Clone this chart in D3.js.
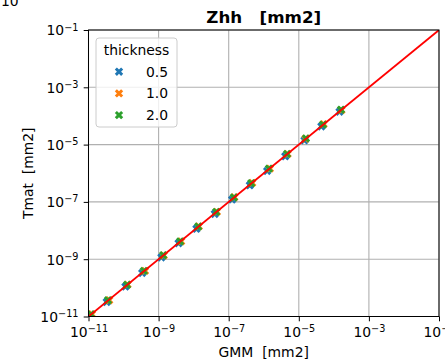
<!DOCTYPE html>
<html>
<head>
<meta charset="utf-8">
<script src="https://cdn.jsdelivr.net/npm/d3@7"></script>
<style>
  body { margin: 0; background: #fff; }
  svg { display: block; font-family: "DejaVu Sans", sans-serif; }
  text { white-space: pre; }
</style>
</head>
<body>
<div id="container"></div>
<script>
var width = 445;
var height = 361;

// data
var thickness = ["0.5", "1.0", "2.0"];
var colors = ["#1f77b4", "#ff7f0e", "#2ca02c"];

var gmm05 = [1.05e-11, 3.3e-11, 1.13e-10, 3.4e-10, 1.2e-9, 3.7e-9, 1.2e-8, 4.0e-8, 1.25e-7, 4.0e-7, 1.25e-6, 4.1e-6, 1.45e-5, 4.4e-5, 1.45e-4];
var tmat05 = [1.0e-11, 3.2e-11, 1.1e-10, 3.3e-10, 1.15e-9, 3.6e-9, 1.15e-8, 3.8e-8, 1.2e-7, 3.8e-7, 1.2e-6, 3.9e-6, 1.4e-5, 4.3e-5, 1.4e-4];
var gmm10 = [1.25e-11, 3.9e-11, 1.3e-10, 4.1e-10, 1.4e-9, 4.4e-9, 1.4e-8, 4.6e-8, 1.45e-7, 4.7e-7, 1.5e-6, 4.8e-6, 1.55e-5, 5.1e-5, 1.65e-4];
var tmat10 = [1.2e-11, 3.7e-11, 1.3e-10, 3.9e-10, 1.35e-9, 4.2e-9, 1.4e-8, 4.5e-8, 1.45e-7, 4.6e-7, 1.45e-6, 4.7e-6, 1.6e-5, 5.2e-5, 1.6e-4];
var gmm20 = [1.17e-11, 3.6e-11, 1.26e-10, 3.8e-10, 1.35e-9, 4.1e-9, 1.35e-8, 4.4e-8, 1.4e-7, 4.4e-7, 1.4e-6, 4.6e-6, 1.6e-5, 4.9e-5, 1.6e-4];
var tmat20 = [1.2e-11, 3.7e-11, 1.28e-10, 3.9e-10, 1.38e-9, 4.2e-9, 1.38e-8, 4.5e-8, 1.43e-7, 4.5e-7, 1.45e-6, 4.7e-6, 1.65e-5, 5.0e-5, 1.65e-4];

var refLine = [1e-11, 1e-1];
var tickExps = [-11, -9, -7, -5, -3, -1];

var series = [
  { label: thickness[0], gx: gmm05, ty: tmat05, color: colors[0] },
  { label: thickness[1], gx: gmm10, ty: tmat10, color: colors[1] },
  { label: thickness[2], gx: gmm20, ty: tmat20, color: colors[2] }
];

// plot box ("top" is a reserved window property, so use other names)
var pLeft = 88.5, pRight = 439, pTop = 30, pBottom = 316.5;
var fs = "13.9px";

var x = d3.scaleLog().domain([1e-11, 1e-1]).range([pLeft, pRight]);
var y = d3.scaleLog().domain([1e-11, 1e-1]).range([pBottom, pTop]);

var svg = d3.select("#container")
  .append("svg")
  .attr("width", width)
  .attr("height", height);

svg.append("clipPath")
  .attr("id", "clip-axes")
  .append("rect")
  .attr("x", pLeft).attr("y", pTop)
  .attr("width", pRight - pLeft).attr("height", pBottom - pTop);

// leftover text from a neighbouring panel
svg.append("text")
  .attr("x", 1).attr("y", 6)
  .style("font-size", fs)
  .text("10");

var tickVals = tickExps.map(function(e) { return Math.pow(10, e); });

// grid
var grid = svg.append("g").attr("class", "grid");
grid.selectAll("line.gx")
  .data(tickVals).enter().append("line")
  .attr("x1", function(d) { return x(d); })
  .attr("x2", function(d) { return x(d); })
  .attr("y1", pTop).attr("y2", pBottom)
  .attr("stroke", "#b0b0b0").attr("stroke-width", 1.1);
grid.selectAll("line.gy")
  .data(tickVals).enter().append("line")
  .attr("y1", function(d) { return y(d); })
  .attr("y2", function(d) { return y(d); })
  .attr("x1", pLeft).attr("x2", pRight)
  .attr("stroke", "#b0b0b0").attr("stroke-width", 1.1);

// points
var xMark = d3.symbol().type(d3.symbolCross).size(44);
var plot = svg.append("g").attr("clip-path", "url(#clip-axes)");

series.forEach(function(s) {
  plot.append("g")
    .selectAll("path")
    .data(d3.range(s.gx.length))
    .enter().append("path")
    .attr("d", xMark)
    .attr("fill", s.color)
    .attr("transform", function(i) {
      return "translate(" + x(s.gx[i]) + "," + y(s.ty[i]) + ")rotate(45)";
    });
});

plot.append("path")
  .datum(refLine)
  .attr("fill", "none")
  .attr("stroke", "#ff0000")
  .attr("stroke-width", 1.8)
  .attr("d", d3.line().x(function(d) { return x(d); }).y(function(d) { return y(d); }));

// axes
function supLabel(sel, exp) {
  sel.text(null);
  sel.append("tspan").text("10");
  sel.append("tspan")
    .attr("dy", "-0.5em")
    .style("font-size", "9.7px")
    .text("\u2212" + Math.abs(exp));
}

var xAxis = svg.append("g")
  .attr("transform", "translate(0," + pBottom + ")")
  .call(d3.axisBottom(x).tickValues(tickVals).tickSize(4.8).tickPadding(5).tickFormat(""));
var yAxis = svg.append("g")
  .attr("transform", "translate(" + pLeft + ",0)")
  .call(d3.axisLeft(y).tickValues(tickVals).tickSize(4.8).tickPadding(5).tickFormat(""));

[xAxis, yAxis].forEach(function(ax) {
  ax.select(".domain").remove();
  ax.selectAll(".tick line").attr("stroke", "#000").attr("stroke-width", 1);
  ax.selectAll(".tick text")
    .attr("fill", "#000")
    .style("font-family", "DejaVu Sans")
    .style("font-size", fs)
    .each(function(d) { supLabel(d3.select(this), Math.round(Math.log10(d))); });
});
xAxis.selectAll(".tick text").attr("dy", "0.95em").attr("y", 7.5);
yAxis.selectAll(".tick text").attr("dy", "0.35em").attr("x", -10);

// spines
svg.append("rect")
  .attr("x", pLeft).attr("y", pTop)
  .attr("width", pRight - pLeft).attr("height", pBottom - pTop)
  .attr("fill", "none")
  .attr("stroke", "#000")
  .attr("stroke-width", 1);

// titles
svg.append("text")
  .attr("x", (pLeft + pRight) / 2).attr("y", 23)
  .attr("text-anchor", "middle")
  .style("font-size", "16.7px")
  .style("font-weight", "bold")
  .text("Zhh   [mm2]");

svg.append("text")
  .attr("x", (pLeft + pRight) / 2).attr("y", 356.5)
  .attr("text-anchor", "middle")
  .style("font-size", fs)
  .text("GMM  [mm2]");

svg.append("text")
  .attr("transform", "translate(33," + (pTop + pBottom) / 2 + ")rotate(-90)")
  .attr("text-anchor", "middle")
  .style("font-size", fs)
  .text("Tmat  [mm2]");

// legend
var legend = svg.append("g");
legend.append("rect")
  .attr("x", 96).attr("y", 38)
  .attr("width", 81).attr("height", 89)
  .attr("rx", 3)
  .attr("fill", "#fff").attr("fill-opacity", 0.8)
  .attr("stroke", "#cccccc").attr("stroke-width", 1);
legend.append("text")
  .attr("x", 136.5).attr("y", 55)
  .attr("text-anchor", "middle")
  .style("font-size", fs)
  .text("thickness");

var rows = legend.selectAll("g.row")
  .data(series).enter().append("g")
  .attr("transform", function(d, i) { return "translate(0," + (71.7 + i * 21.7) + ")"; });
rows.append("path")
  .attr("d", xMark)
  .attr("fill", function(d) { return d.color; })
  .attr("transform", "translate(119,0)rotate(45)");
rows.append("text")
  .attr("x", 146).attr("y", 5)
  .style("font-size", fs)
  .text(function(d) { return d.label; });
</script>
</body>
</html>
